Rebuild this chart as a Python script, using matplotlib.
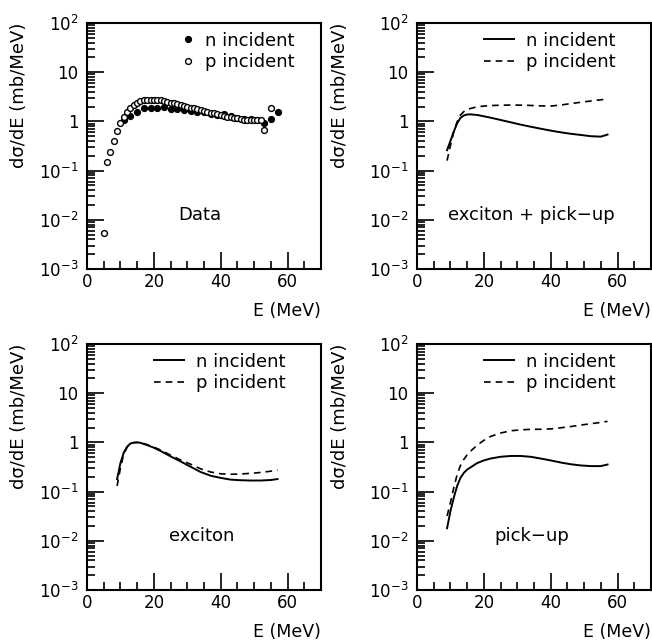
import matplotlib
matplotlib.use("Agg")
import matplotlib.pyplot as plt
from matplotlib.ticker import FixedLocator, MultipleLocator, LogLocator, FuncFormatter, NullFormatter

plt.rcParams["font.family"] = "DejaVu Sans"

# Measured spectra (top left panel)
e_n_data = [11, 13, 15, 17, 19, 21, 23, 25, 27, 29, 31, 33, 35, 37, 39, 41,
            43, 45, 47, 49, 51, 53, 55, 57]
n_data = [1.07, 1.29, 1.58, 1.84, 1.84, 1.87, 1.93, 1.82, 1.82, 1.71, 1.65, 1.55,
          1.53, 1.44, 1.35, 1.39, 1.29, 1.19, 1.14, 1.12, 1.08, 0.91, 1.12, 1.53]

e_p_data = [5, 6, 7, 8, 9, 10, 11, 12, 13, 14, 15, 16, 17, 18, 19, 20, 21, 22, 23,
            24, 25, 26, 27, 28, 29, 30, 31, 32, 33, 34, 35, 36, 37, 38, 39, 40, 41,
            42, 43, 44, 45, 46, 47, 48, 49, 50, 51, 52, 53, 55]
p_data = [0.0053, 0.15, 0.24, 0.40, 0.63, 0.91, 1.25, 1.53, 1.85, 2.15, 2.40, 2.64,
          2.72, 2.72, 2.72, 2.72, 2.72, 2.72, 2.64, 2.52, 2.40, 2.33, 2.26, 2.15,
          2.09, 1.99, 1.90, 1.84, 1.76, 1.68, 1.63, 1.55, 1.50, 1.46, 1.39, 1.35,
          1.29, 1.25, 1.22, 1.18, 1.16, 1.12, 1.08, 1.07, 1.05, 1.05, 1.05, 1.05,
          0.67, 1.90]

# Model curves, common energy grid
e_model = [9, 10, 11, 12, 13, 14, 15, 16, 18, 20, 22, 25, 28, 31, 34, 37, 40, 43,
           46, 49, 52, 55, 57]

total_n = [0.26, 0.40, 0.62, 0.91, 1.18, 1.32, 1.38, 1.39, 1.35, 1.27, 1.19, 1.07,
           0.96, 0.86, 0.78, 0.71, 0.65, 0.60, 0.56, 0.53, 0.50, 0.49, 0.54]
total_p = [0.16, 0.32, 0.62, 0.98, 1.35, 1.58, 1.72, 1.83, 1.98, 2.05, 2.10, 2.13,
           2.15, 2.14, 2.11, 2.07, 2.05, 2.15, 2.30, 2.45, 2.60, 2.75, 2.85]

exciton_n = [0.18, 0.38, 0.62, 0.82, 0.95, 0.99, 1.00, 0.98, 0.88, 0.78, 0.67, 0.52,
             0.41, 0.32, 0.25, 0.21, 0.19, 0.175, 0.17, 0.168, 0.168, 0.172, 0.18]
exciton_p = [0.13, 0.30, 0.58, 0.80, 0.94, 0.99, 1.00, 0.99, 0.90, 0.80, 0.70, 0.55,
             0.44, 0.36, 0.29, 0.25, 0.23, 0.225, 0.228, 0.235, 0.245, 0.26, 0.275]

pickup_n = [0.018, 0.04, 0.075, 0.13, 0.19, 0.24, 0.28, 0.31, 0.38, 0.43, 0.47, 0.51,
            0.53, 0.53, 0.51, 0.47, 0.43, 0.39, 0.36, 0.34, 0.33, 0.33, 0.355]
pickup_p = [0.032, 0.06, 0.12, 0.22, 0.34, 0.45, 0.56, 0.66, 0.88, 1.10, 1.32, 1.55,
            1.72, 1.80, 1.84, 1.85, 1.88, 1.98, 2.10, 2.25, 2.40, 2.55, 2.68]

y_labels = {2: r"$\mathregular{10^{2}}$", 1: "10", 0: "1",
            -1: r"$\mathregular{10^{-1}}$", -2: r"$\mathregular{10^{-2}}$",
            -3: r"$\mathregular{10^{-3}}$"}


def fmt_y(v, pos):
    import math
    k = int(round(math.log10(v)))
    return y_labels.get(k, "")


def style_axes(ax, label_x):
    ax.set_xlim(0, 70)
    ax.set_yscale("log")
    ax.set_ylim(1e-3, 1e2)
    ax.xaxis.set_major_locator(FixedLocator([0, 20, 40, 60]))
    ax.xaxis.set_minor_locator(MultipleLocator(5))
    ax.yaxis.set_major_locator(LogLocator(base=10))
    ax.yaxis.set_minor_locator(LogLocator(base=10, subs=range(2, 10)))
    ax.yaxis.set_major_formatter(FuncFormatter(fmt_y))
    ax.yaxis.set_minor_formatter(NullFormatter())
    ax.tick_params(which="both", direction="in", top=False, right=False,
                   labelsize=12, width=1.2)
    ax.tick_params(which="major", length=12)
    ax.tick_params(axis="x", which="major", pad=3)
    ax.tick_params(axis="y", which="major", pad=6)
    ax.tick_params(which="minor", length=6)
    for s in ax.spines.values():
        s.set_linewidth(1.5)
    ax.set_ylabel("d\u03c3/dE (mb/MeV)", fontsize=13, loc="top")
    ax.yaxis.set_label_coords(label_x, 1.0)
    ax.set_xlabel("E (MeV)", fontsize=12.5, loc="right", labelpad=8)


fig = plt.figure(figsize=(6.52, 6.44), dpi=100)
W = 234 / 652
H = 246 / 644
ax1 = fig.add_axes([87 / 652, 1 - 269 / 644, W, H])
ax2 = fig.add_axes([417 / 652, 1 - 269 / 644, W, H])
ax3 = fig.add_axes([87 / 652, 1 - 590 / 644, W, H])
ax4 = fig.add_axes([417 / 652, 1 - 590 / 644, W, H])

style_axes(ax1, -0.25)
style_axes(ax2, -0.29)
style_axes(ax3, -0.25)
style_axes(ax4, -0.29)

# Data panel
ax1.plot(e_n_data, n_data, "o", color="black", ms=4.2, label="n incident")
ax1.plot(e_p_data, p_data, "o", mfc="white", mec="black", mew=1.0, ms=4.2,
         label="p incident")
ax1.legend(loc="upper left", bbox_to_anchor=(0.393, 0.965), frameon=False,
           fontsize=13, handlelength=1.0, handletextpad=0.45, labelspacing=0.2,
           borderpad=0, borderaxespad=0)
ax1.text(0.48, 0.22, "Data", transform=ax1.transAxes, fontsize=13,
         ha="center", va="center")

# Model panels
panels = [(ax2, total_n, total_p, "exciton + pick-up"),
          (ax3, exciton_n, exciton_p, "exciton"),
          (ax4, pickup_n, pickup_p, "pick-up")]
for ax, yn, yp, title in panels:
    ax.plot(e_model, yn, "-", color="black", lw=1.4, label="n incident")
    ax.plot(e_model, yp, "--", color="black", lw=1.2, dashes=(4, 3),
            label="p incident")
    ax.legend(loc="upper left", bbox_to_anchor=(0.285, 0.965), frameon=False,
              fontsize=13, handlelength=1.67, handletextpad=0.67, labelspacing=0.2,
              borderpad=0, borderaxespad=0)
    ax.text(0.49, 0.22, title.replace("-", "\u2212"), transform=ax.transAxes,
            fontsize=13, ha="center", va="center")

fig.savefig("out.png", dpi=100)
